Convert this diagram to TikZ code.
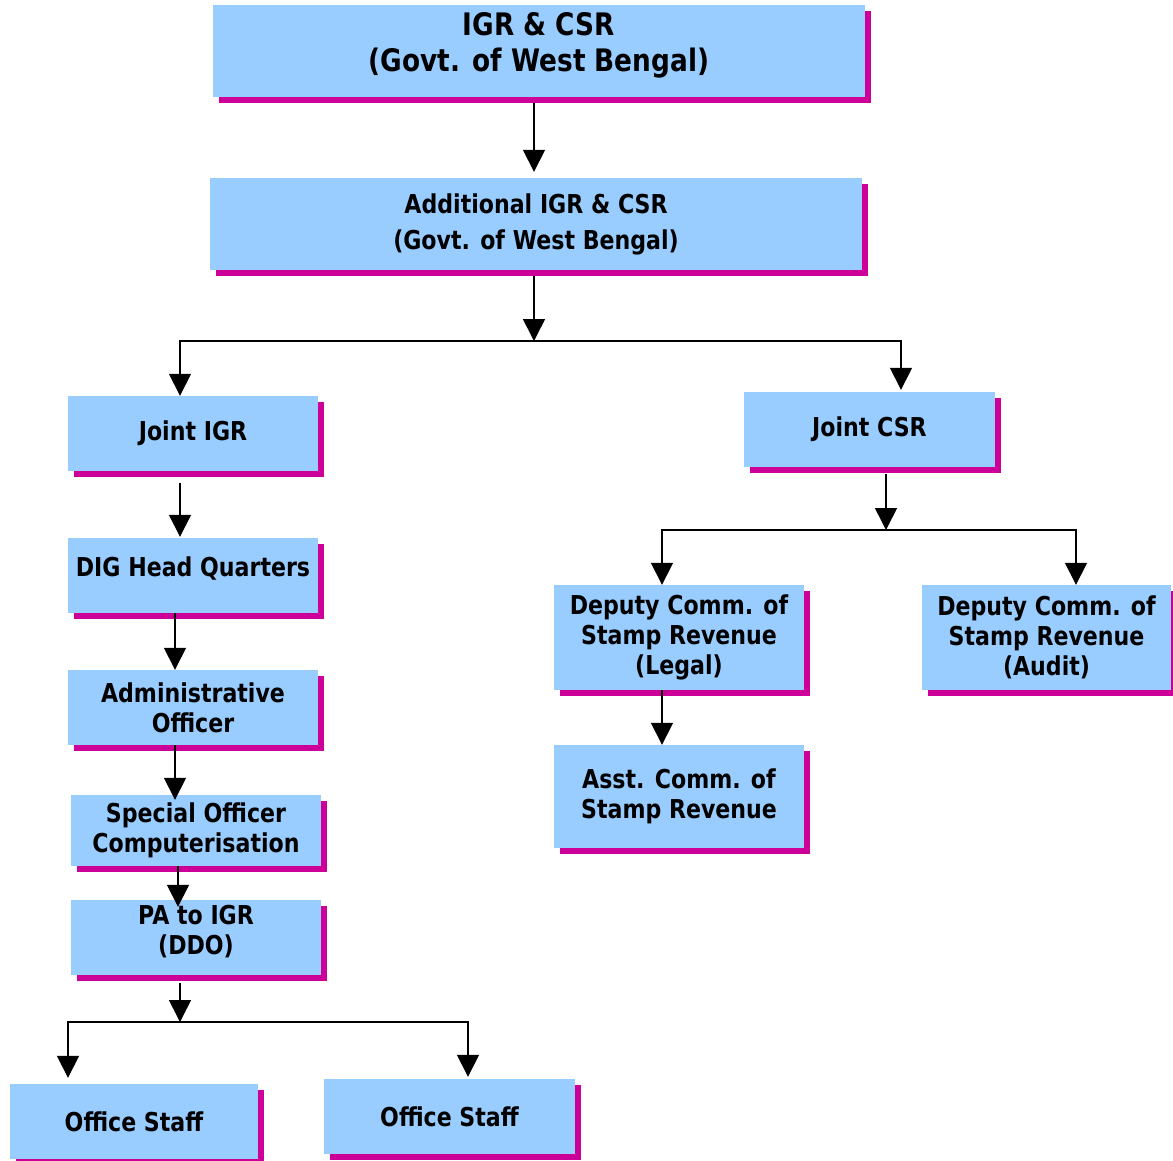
\documentclass[tikz,border=0pt]{standalone}
\usepackage{fontspec}
\setmainfont{DejaVu Sans}[FakeStretch=0.85]
\usetikzlibrary{arrows.meta,shadows}
\definecolor{boxblue}{HTML}{99CCFF}
\definecolor{boxpink}{HTML}{CC0099}

\begin{document}
\begin{tikzpicture}[x=1pt,y=-1pt,
  post/.style={rectangle,fill=boxblue,inner sep=0pt,align=center,
    minimum width=250pt,minimum height=75pt,
    font=\bfseries\fontsize{26}{30}\selectfont,
    drop shadow={shadow xshift=6pt,shadow yshift=-6pt,fill=boxpink,opacity=1}},
  arr/.style={-{Triangle[width=22pt,length=22pt]},line width=1.6pt}]
\useasboundingbox (0,0) rectangle (1173,1161);

\node[post] (igr) [minimum width=652pt,minimum height=92pt,text depth=17.5pt,font=\bfseries\fontsize{31}{36}\selectfont] at (539,51) {IGR \& CSR\\(Govt. of West Bengal)};
\node[post] (aigr) [minimum width=652pt,minimum height=92pt,font=\bfseries\fontsize{26}{36}\selectfont] at (536,224) {Additional IGR \& CSR\\(Govt. of West Bengal)};
\node[post] (jigr) at (193,433.5) {Joint IGR};
\node[post] (dig) [text depth=17pt] at (193,575.5) {DIG Head Quarters};
\node[post] (admin) at (193,707.5) {Administrative\\Officer};
\node[post] (spl) [minimum height=71pt] at (196,830.5) {Special Officer\\Computerisation};
\node[post] (pa) [text depth=16pt] at (196,937.5) {PA to IGR\\(DDO)};
\node[post] (ostaffa) [minimum width=248pt] at (134,1121.5) {Office Staff};
\node[post] (ostaffb) [minimum width=251pt] at (449.5,1116.5) {Office Staff};
\node[post] (jcsr) [minimum width=251pt] at (869.5,429.5) {Joint CSR};
\node[post] (dlegal) [minimum height=105pt] at (679,637.5) {Deputy Comm. of\\Stamp Revenue\\(Legal)};
\node[post] (daudit) [minimum width=249pt,minimum height=105pt] at (1046.5,637.5) {Deputy Comm. of\\Stamp Revenue\\(Audit)};
\node[post] (asst) [minimum height=103pt] at (679,796.5) {Asst. Comm. of\\Stamp Revenue};

\coordinate (fa) at (534,341);
\coordinate (fb) at (886,530);
\coordinate (fc) at (180,1022);

% top of the chart
\draw[arr,shorten <=6pt,shorten >=6pt] ([xshift=-5pt]igr.south) -- ([xshift=-5pt]igr.south |- aigr.north);
\draw[arr,shorten <=6pt] (aigr.south -| fa) -- (fa);
\draw[arr] (fa) -| ([xshift=-13pt]jigr.north);
\draw[arr,shorten >=2pt] (fa) -| ([xshift=31.5pt]jcsr.north);

% IGR side
\draw[arr,shorten <=12pt,shorten >=1pt] ([xshift=-13pt]jigr.south) -- ([xshift=-13pt]dig.north);
\draw[arr] ([xshift=-18pt]dig.south) -- ([xshift=-18pt]admin.north);
\draw[arr,shorten >=-5pt] ([xshift=-18pt]admin.south) -- ([xshift=-18pt]admin.south |- spl.north);
\draw[arr,shorten >=-7pt] ([xshift=-18pt]spl.south) -- ([xshift=-18pt]spl.south |- pa.north);
\draw[arr,shorten <=8pt] (pa.south -| fc) -- (fc);
\draw[arr,shorten >=6pt] (fc) -| ([xshift=-66pt]ostaffa.north);
\draw[arr,shorten >=2pt] (fc) -| ([xshift=18.5pt]ostaffb.north);

% CSR side
\draw[arr,shorten <=7pt] (jcsr.south -| fb) -- (fb);
\draw[arr] (fb) -| ([xshift=-17pt]dlegal.north);
\draw[arr] (fb) -| ([xshift=29.5pt]daudit.north);
\draw[arr] ([xshift=-17pt]dlegal.south) -- ([xshift=-17pt]asst.north);
\end{tikzpicture}
\end{document}
